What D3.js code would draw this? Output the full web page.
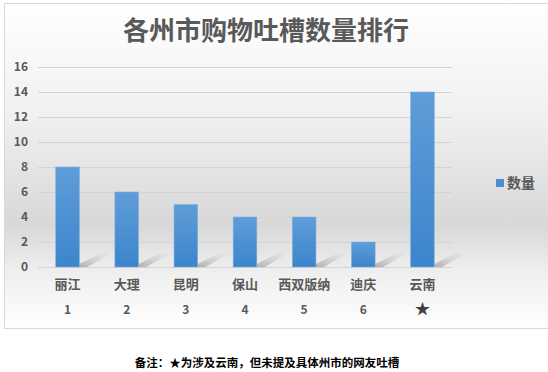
<!DOCTYPE html>
<html>
<head>
<meta charset="utf-8">
<script src="https://cdn.jsdelivr.net/npm/d3@7"></script>
<style>
  body { margin: 0; background: #fff; }
  text { font-family: "Noto Sans CJK SC", "Noto Sans", sans-serif; }
</style>
</head>
<body>
<div id="chart"></div>
<script>
const cities = ['丽江', '大理', '昆明', '保山', '西双版纳', '迪庆', '云南'];
const ranks = ['1', '2', '3', '4', '5', '6', '★'];
const counts = [8, 6, 5, 4, 4, 2, 14];
const yTicks = [0, 2, 4, 6, 8, 10, 12, 14, 16];
const seriesName = '数量';
const title = '各州市购物吐槽数量排行';
const note = '备注：★为涉及云南，但未提及具体州市的网友吐槽';

const width = 548, height = 372;
const svg = d3.select('#chart').append('svg')
  .attr('width', width)
  .attr('height', height);

const defs = svg.append('defs');
const bg = defs.append('linearGradient').attr('id', 'bg')
  .attr('x1', 0).attr('y1', 0).attr('x2', 0).attr('y2', 1);
bg.append('stop').attr('offset', '0%').attr('stop-color', '#ffffff');
bg.append('stop').attr('offset', '35%').attr('stop-color', '#f0f0f0');
bg.append('stop').attr('offset', '68%').attr('stop-color', '#d8d8d8');
bg.append('stop').attr('offset', '82%').attr('stop-color', '#eeeeee');
bg.append('stop').attr('offset', '100%').attr('stop-color', '#ffffff');

const barGrad = defs.append('linearGradient').attr('id', 'bar')
  .attr('x1', 0).attr('y1', 0).attr('x2', 0).attr('y2', 1);
barGrad.append('stop').attr('offset', '0%').attr('stop-color', '#5f9dd8');
barGrad.append('stop').attr('offset', '100%').attr('stop-color', '#3c85cc');

const shGrad = defs.append('linearGradient').attr('id', 'shadow')
  .attr('x1', 0).attr('y1', 1).attr('x2', 1).attr('y2', 0);
shGrad.append('stop').attr('offset', '0%').attr('stop-color', '#888').attr('stop-opacity', 0.6);
shGrad.append('stop').attr('offset', '100%').attr('stop-color', '#bbb').attr('stop-opacity', 0);

// chart frame
svg.append('rect')
  .attr('x', 4.5).attr('y', 3.5)
  .attr('width', 560).attr('height', 325)
  .attr('fill', 'url(#bg)')
  .attr('stroke', '#d9d9d9');

const plot = { left: 38, right: 452, top: 67, bottom: 267 };

const x = d3.scaleBand()
  .domain(cities)
  .range([plot.left, plot.right])
  .paddingInner(0.6)
  .paddingOuter(0.3);

const y = d3.scaleLinear()
  .domain([0, 16])
  .range([plot.bottom, plot.top]);

svg.append('text')
  .attr('x', 266).attr('y', 40)
  .attr('text-anchor', 'middle')
  .attr('font-size', 26)
  .attr('font-weight', 'bold')
  .attr('fill', '#595959')
  .text(title);

// gridlines + y labels
const yAxis = d3.axisLeft(y).tickValues(yTicks)
  .tickSize(-(plot.right - plot.left)).tickPadding(10);
const gy = svg.append('g')
  .attr('transform', `translate(${plot.left},0)`)
  .call(yAxis);
gy.select('.domain').remove();
gy.selectAll('.tick line').attr('stroke', '#d4d4d4');
gy.selectAll('.tick text')
  .attr('font-size', 12).attr('font-weight', 'bold')
  .attr('fill', '#595959');

// bar shadows
svg.append('g').selectAll('path')
  .data(counts)
  .join('path')
  .attr('d', (d, i) => {
    const x0 = x(cities[i]) + x.bandwidth();
    const b = y(0), sh = 22, lift = 14;
    return `M${x0},${b} L${x0},${b - 3} L${x0 + sh},${b - lift} L${x0 + sh + 10},${b - lift} L${x0 + 8},${b}Z`;
  })
  .attr('fill', 'url(#shadow)');

svg.append('g').selectAll('rect')
  .data(counts)
  .join('rect')
  .attr('x', (d, i) => x(cities[i]))
  .attr('y', d => y(d))
  .attr('width', x.bandwidth())
  .attr('height', d => y(0) - y(d))
  .attr('fill', 'url(#bar)')
  .attr('stroke', '#7fb0e0')
  .attr('stroke-width', 0.6);

// category labels
const xl = svg.append('g');
xl.selectAll('text.city')
  .data(cities)
  .join('text')
  .attr('class', 'city')
  .attr('x', d => x(d) + x.bandwidth() / 2)
  .attr('y', 289)
  .attr('text-anchor', 'middle')
  .attr('font-size', 13).attr('font-weight', 'bold')
  .attr('fill', '#595959')
  .text(d => d);
xl.selectAll('text.rank')
  .data(ranks)
  .join('text')
  .attr('class', 'rank')
  .attr('x', (d, i) => x(cities[i]) + x.bandwidth() / 2)
  .attr('y', 314)
  .attr('text-anchor', 'middle')
  .attr('font-size', d => d === '★' ? 15 : 12)
  .attr('font-weight', 'bold')
  .attr('fill', d => d === '★' ? '#404040' : '#595959')
  .text(d => d);

// legend
const lg = svg.append('g').attr('transform', 'translate(496,179)');
lg.append('rect').attr('width', 8).attr('height', 8).attr('fill', '#4a8fd2');
lg.append('text').attr('x', 11).attr('y', 9)
  .attr('font-size', 14).attr('font-weight', 'bold')
  .attr('fill', '#595959').text(seriesName);

svg.append('text')
  .attr('x', 267).attr('y', 367)
  .attr('text-anchor', 'middle')
  .attr('font-size', 11.5).attr('font-weight', 'bold')
  .attr('fill', '#000')
  .text(note);
</script>
</body>
</html>
